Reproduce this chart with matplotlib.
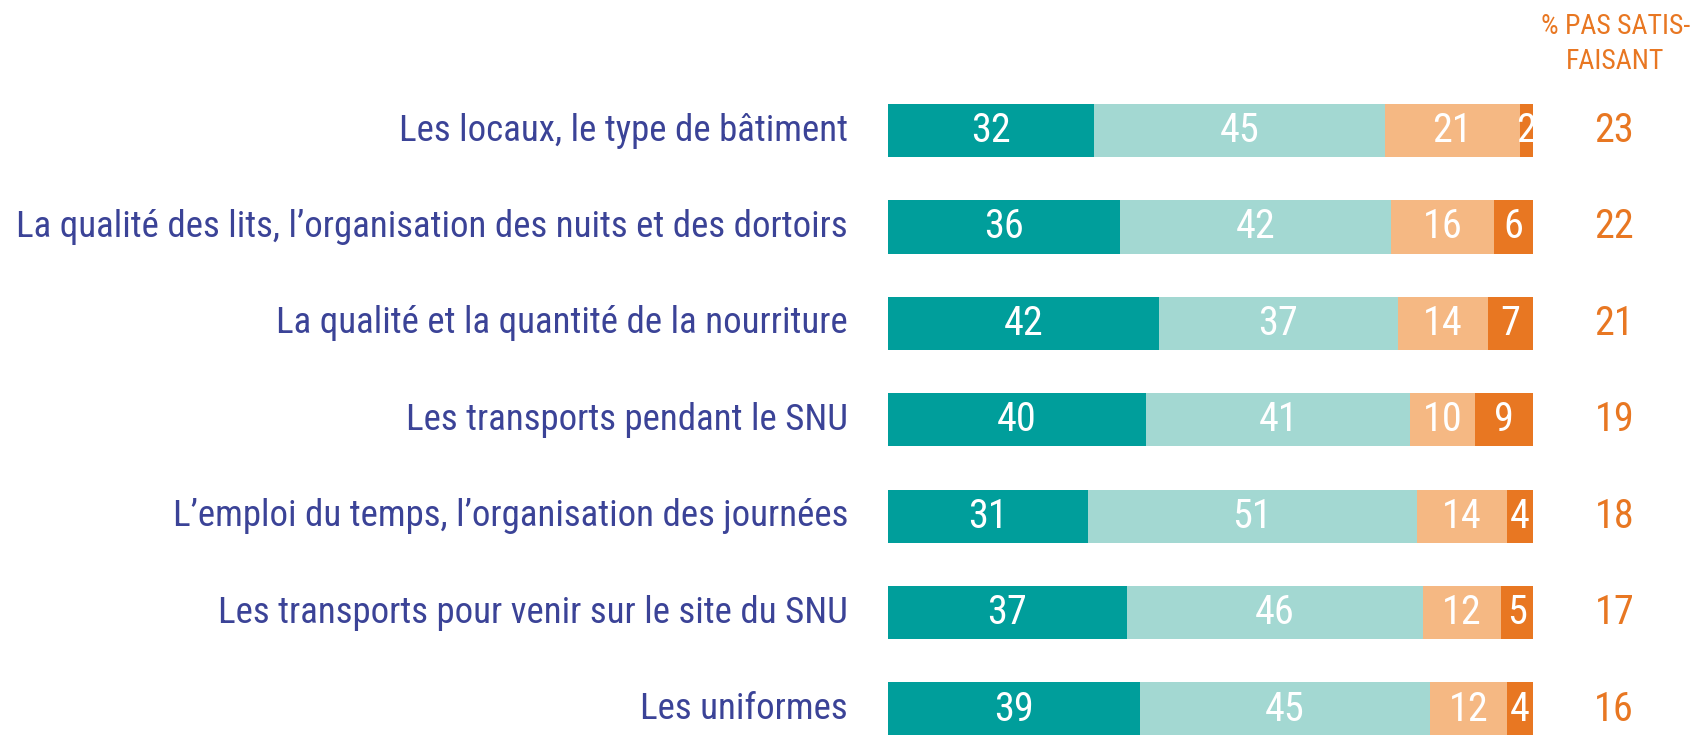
import matplotlib.pyplot as plt
import matplotlib.font_manager as fm

# data
items = [
    "Les locaux, le type de bâtiment",
    "La qualité des lits, l\u2019organisation des nuits et des dortoirs",
    "La qualité et la quantité de la nourriture",
    "Les transports pendant le SNU",
    "L\u2019emploi du temps, l\u2019organisation des journées",
    "Les transports pour venir sur le site du SNU",
    "Les uniformes",
]
tres_satisf = [32, 36, 42, 40, 31, 37, 39]
plutot_satisf = [45, 42, 37, 41, 51, 46, 45]
plutot_pas = [21, 16, 14, 10, 14, 12, 12]
pas_du_tout = [2, 6, 7, 9, 4, 5, 4]
total_pas = [23, 22, 21, 19, 18, 17, 16]

colors = ["#009E9B", "#A3D8D2", "#F5B883", "#E87722"]
blue = "#3B4397"
orange = "#E87722"

# pick the narrowest font we can find
names = {f.name for f in fm.fontManager.ttflist}
fam, stretch = "Roboto", "normal"
for n in ["Roboto Condensed", "Liberation Sans Narrow", "Open Sans Condensed"]:
    if n in names:
        fam = n
        break
else:
    for f in fm.fontManager.ttflist:
        if f.name == "DejaVu Sans" and str(f.stretch) in ("condensed", "semi-condensed"):
            fam, stretch = "DejaVu Sans", "condensed"
            break
plt.rcParams['font.family'] = [fam, 'DejaVu Sans']
plt.rcParams['font.stretch'] = stretch

fig = plt.figure(figsize=(16.99, 7.35), dpi=100)
ax = fig.add_axes([0, 0, 1, 1])
# px -> data: bars start at 888px, 6.45px per %, rows 96.4px apart
ax.set_xlim(-888 / 6.45, (1699 - 888) / 6.45)
ax.set_ylim((735 - 130.6) / 96.4, -130.6 / 96.4)
ax.axis('off')

rows = range(len(items))
left = [0] * len(items)
for vals, c in zip([tres_satisf, plutot_satisf, plutot_pas, pas_du_tout], colors):
    ax.barh(rows, vals, left=left, height=0.55, color=c, edgecolor='none')
    for i, v in enumerate(vals):
        ax.text(left[i] + v / 2, i, str(v), color='white', fontsize=29,
                ha='center', va='center')
    left = [l + v for l, v in zip(left, vals)]

labels = []
for i, lab in enumerate(items):
    labels.append(ax.text(-6.2, i, lab, color=blue, fontsize=26, ha='right',
                          va='center'))
    ax.text(112.6, i, str(total_pas[i]), color=orange, fontsize=29,
            ha='center', va='center')

# scale labels so the longest one spans the left margin (~832 px)
r = fig.canvas.get_renderer()
w = max(t.get_window_extent(r).width for t in labels)
for t in labels:
    t.set_fontsize(26 * 832 / w)

ax.text(112.8, -0.9, "% PAS SATIS-\nFAISANT", color=orange, fontsize=20,
        ha='center', va='center', linespacing=1.35)

fig.savefig("out.png", dpi=100)
